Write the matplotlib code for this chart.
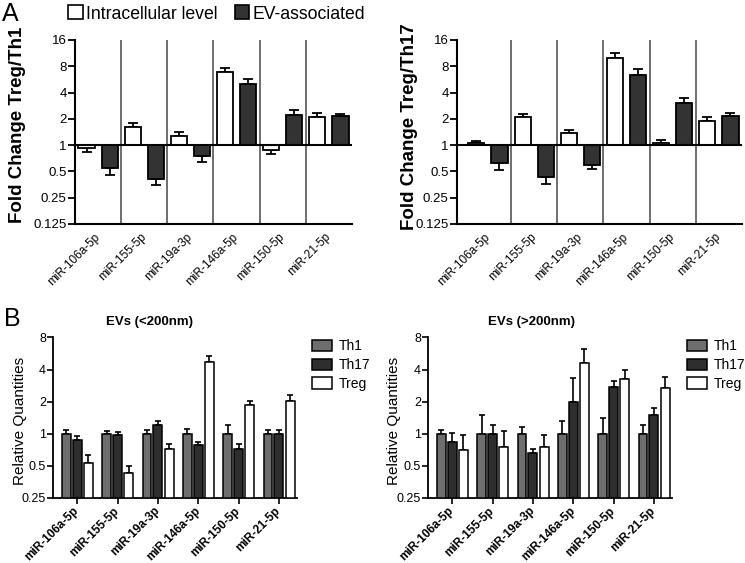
import matplotlib
matplotlib.use('Agg')
from matplotlib import pyplot as plt
from matplotlib.patches import Patch
from matplotlib.ticker import FixedLocator, NullLocator

plt.rcParams['font.family'] = ['Liberation Sans', 'DejaVu Sans']

mirnas = ['miR-106a-5p', 'miR-155-5p', 'miR-19a-3p', 'miR-146a-5p', 'miR-150-5p', 'miR-21-5p']

# Panel A: fold change (bar value, end of error bar)
th1_intra = [0.92, 1.62, 1.27, 6.8, 0.88, 2.11]
th1_intra_err = [0.84, 1.80, 1.40, 7.7, 0.80, 2.34]
th1_ev = [0.55, 0.41, 0.75, 4.95, 2.22, 2.15]
th1_ev_err = [0.46, 0.35, 0.64, 5.7, 2.51, 2.30]

th17_intra = [1.045, 2.11, 1.38, 10.0, 1.045, 1.90]
th17_intra_err = [1.12, 2.30, 1.49, 11.4, 1.14, 2.10]
th17_ev = [0.62, 0.43, 0.59, 6.3, 3.0, 2.13]
th17_ev_err = [0.52, 0.36, 0.53, 7.35, 3.5, 2.34]

# Panel B: relative quantities (bar value, top of error bar)
small_th1 = [1.0, 1.0, 1.0, 1.0, 1.0, 1.0]
small_th1_err = [1.09, 1.07, 1.08, 1.10, 1.20, 1.08]
small_th17 = [0.88, 0.97, 1.22, 0.78, 0.72, 1.0]
small_th17_err = [0.95, 1.04, 1.31, 0.835, 0.81, 1.08]
small_treg = [0.53, 0.43, 0.72, 4.7, 1.87, 2.05]
small_treg_err = [0.63, 0.50, 0.81, 5.35, 2.05, 2.29]

large_th1 = [1.0, 1.0, 1.0, 1.0, 1.0, 1.0]
large_th1_err = [1.09, 1.5, 1.15, 1.33, 1.4, 1.21]
large_th17 = [0.835, 1.0, 0.66, 2.0, 2.74, 1.5]
large_th17_err = [1.02, 1.21, 0.72, 3.35, 3.15, 1.75]
large_treg = [0.70, 0.75, 0.76, 4.6, 3.28, 2.7]
large_treg_err = [0.965, 1.07, 0.965, 6.3, 4.0, 3.4]

a_ticks = [0.125, 0.25, 0.5, 1, 2, 4, 8, 16]
a_labels = ['0.125', '0.25', '0.5', '1', '2', '4', '8', '16']
b_ticks = [0.25, 0.5, 1, 2, 4, 8]
b_labels = ['0.25', '0.5', '1', '2', '4', '8']

ev_color = '#333333'
th1_color = '#6e6e6e'
th17_color = '#2e2e2e'


def one_sided(vals, ends):
    lo, hi = [], []
    for v, e in zip(vals, ends):
        if e >= v:
            lo.append(0)
            hi.append(e - v)
        else:
            lo.append(v - e)
            hi.append(0)
    return [lo, hi]


def panel_a(ax, intra, intra_err, ev, ev_err, xmin):
    x = list(range(len(mirnas)))
    w = 0.35
    off = 0.25
    xi = [i - off for i in x]
    xe = [i + off for i in x]
    ax.bar(xi, [v - 1 for v in intra], w, bottom=1, color='white',
           edgecolor='black', linewidth=1.3, zorder=3)
    ax.bar(xe, [v - 1 for v in ev], w, bottom=1, color=ev_color,
           edgecolor='black', linewidth=1.3, zorder=3)
    ax.errorbar(xi, intra, yerr=one_sided(intra, intra_err), fmt='none',
                ecolor='black', elinewidth=1.3, capsize=3.6, capthick=1.3, zorder=2)
    ax.errorbar(xe, ev, yerr=one_sided(ev, ev_err), fmt='none',
                ecolor='black', elinewidth=1.3, capsize=3.6, capthick=1.3, zorder=2)
    ax.set_yscale('log')
    ax.set_ylim(0.125, 16)
    ax.set_xlim(xmin, 5.5)
    ax.axhline(1, color='black', linewidth=1.5, zorder=4)
    for s in [0.5, 1.5, 2.5, 3.5, 4.5]:
        ax.axvline(s, color='#555555', linewidth=1.2, zorder=1)
    ax.yaxis.set_major_locator(FixedLocator(a_ticks))
    ax.yaxis.set_minor_locator(NullLocator())
    ax.set_yticklabels(a_labels, fontsize=9.5)
    ax.set_xticks(x)
    ax.set_xticklabels(mirnas, rotation=45, ha='right', va='center',
                       rotation_mode='anchor', fontsize=8.5)
    ax.tick_params(axis='x', length=0, pad=8)
    ax.tick_params(axis='y', length=5, width=1.3, pad=1)
    ax.spines['top'].set_visible(False)
    ax.spines['right'].set_visible(False)
    ax.spines['left'].set_linewidth(1.5)
    ax.spines['bottom'].set_linewidth(1.5)


def panel_b(ax, groups):
    x = list(range(len(mirnas)))
    w = 0.22
    offs = [-0.27, 0, 0.28]
    colors = [th1_color, th17_color, 'white']
    names = ['Th1', 'Th17', 'Treg']
    for (vals, ends), off, c, n in zip(groups, offs, colors, names):
        xs = [i + off for i in x]
        ax.bar(xs, [v - 0.25 for v in vals], w, bottom=0.25, color=c,
               edgecolor='black', linewidth=1.1, zorder=3, label=n)
        ax.errorbar(xs, vals, yerr=one_sided(vals, ends), fmt='none',
                    ecolor='black', elinewidth=1.2, capsize=2.3, capthick=1.2, zorder=2)
    ax.set_yscale('log')
    ax.set_ylim(0.25, 8)
    ax.set_xlim(-0.6, 5.45)
    ax.yaxis.set_major_locator(FixedLocator(b_ticks))
    ax.yaxis.set_minor_locator(NullLocator())
    ax.set_yticklabels(b_labels, fontsize=9)
    ax.set_xticks(x)
    ax.set_xticklabels(mirnas, rotation=45, ha='right', va='center',
                       rotation_mode='anchor', fontsize=8.5, fontweight='bold')
    ax.tick_params(axis='x', length=4, width=1.2, pad=4)
    ax.tick_params(axis='y', length=4, width=1.2, pad=1)
    ax.spines['top'].set_visible(False)
    ax.spines['right'].set_visible(False)
    ax.spines['left'].set_linewidth(1.3)
    ax.spines['bottom'].set_linewidth(1.3)
    ax.legend(loc='upper left', bbox_to_anchor=(1.06, 0.99), frameon=False,
              fontsize=10, handlelength=1.45, handleheight=0.85,
              handletextpad=0.5, labelspacing=0.35, borderpad=0, borderaxespad=0)


fig = plt.figure(figsize=(7.45, 5.63), dpi=100)

ax1 = fig.add_axes([75 / 745, 1 - 224 / 563, 277 / 745, 184 / 563])
panel_a(ax1, th1_intra, th1_intra_err, th1_ev, th1_ev_err, -0.5)
ax2 = fig.add_axes([457 / 745, 1 - 224 / 563, 285 / 745, 184 / 563])
panel_a(ax2, th17_intra, th17_intra_err, th17_ev, th17_ev_err, -0.67)

ax3 = fig.add_axes([53 / 745, 1 - 498 / 563, 244 / 745, 160.5 / 563])
panel_b(ax3, [(small_th1, small_th1_err), (small_th17, small_th17_err),
              (small_treg, small_treg_err)])
ax4 = fig.add_axes([428 / 745, 1 - 498 / 563, 244 / 745, 160.5 / 563])
panel_b(ax4, [(large_th1, large_th1_err), (large_th17, large_th17_err),
              (large_treg, large_treg_err)])

# Labels
fig.text(18 / 745, 0.778, 'Fold Change Treg/Th1', rotation=90, ha='center',
         va='center', fontsize=13.5, fontweight='bold')
fig.text(409 / 745, 0.775, 'Fold Change Treg/Th17', rotation=90, ha='center',
         va='center', fontsize=13.5, fontweight='bold')
fig.text(20 / 745, 0.252, 'Relative Quantities', rotation=90, ha='center',
         va='center', fontsize=11)
fig.text(394 / 745, 0.252, 'Relative Quantities', rotation=90, ha='center',
         va='center', fontsize=11)
fig.text(150 / 745, 1 - 322 / 563, 'EVs (<200nm)', ha='center', va='center',
         fontsize=9.5, fontweight='bold')
fig.text(531 / 745, 1 - 322 / 563, 'EVs (>200nm)', ha='center', va='center',
         fontsize=9.5, fontweight='bold')
fig.text(2 / 745, 1 - 14 / 563, 'A', ha='left', va='center', fontsize=18)
fig.text(4 / 745, 1 - 319 / 563, 'B', ha='left', va='center', fontsize=18)

handles = [Patch(facecolor='white', edgecolor='black', linewidth=1.2),
           Patch(facecolor=ev_color, edgecolor='black', linewidth=1.2)]
fig.legend(handles, ['Intracellular level', 'EV-associated'], loc='center',
           bbox_to_anchor=(217 / 745, 1 - 14 / 563), ncol=2, frameon=False,
           fontsize=12.7, handlelength=0.8, handleheight=0.85,
           handletextpad=0.2, columnspacing=1.0, borderpad=0)

fig.savefig('out.png', dpi=100)
